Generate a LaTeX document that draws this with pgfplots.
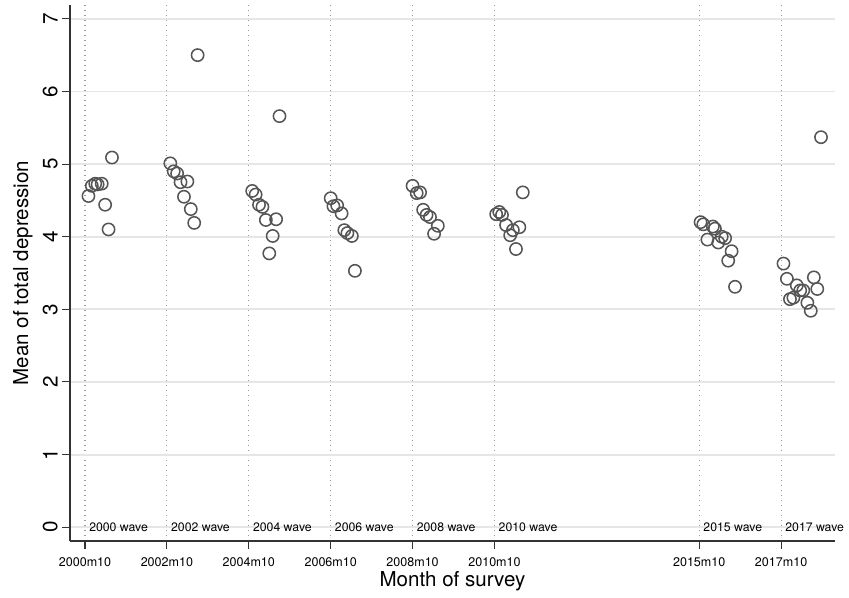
\documentclass[border=0pt]{standalone}
\usepackage{pgfplots}
\pgfplotsset{compat=1.18}
\usepackage{fontspec}
\setmainfont{TeX Gyre Heros}
\definecolor{markc}{HTML}{555555}
\definecolor{gridc}{HTML}{E6E6E6}
\definecolor{dotc}{HTML}{9A9A9A}
\definecolor{axc}{HTML}{333333}
\tikzset{wave/.style={anchor=west, inner sep=0pt, xshift=3pt, font=\fontsize{9.2pt}{11pt}\selectfont}}
\begin{document}
\begin{tikzpicture}
\path[use as bounding box] (-52.5pt,-42pt) rectangle (584.25pt,405.75pt);
\begin{axis}[
  at={(0,0)}, anchor=south west,
  scale only axis, width=573.75pt, height=402pt,
  xmin=-4.4, xmax=219.8, ymin=-0.19, ymax=7.19,
  axis lines=left,
  axis line style={-, draw=axc, line width=0.8pt},
  xtick={0,24,48,72,96,120,180,204},
  xticklabels={2000m10,2002m10,2004m10,2006m10,2008m10,2010m10,2015m10,2017m10},
  ytick={0,1,2,3,4,5,6,7},
  tick align=outside, major tick length=6pt,
  tick style={draw=axc, line width=0.8pt},
  xmajorgrids, ymajorgrids,
  x grid style={draw=dotc, line width=0.8pt, dash pattern=on 0.8pt off 2.95pt},
  y grid style={draw=gridc, line width=1.4pt},
  /pgf/number format/assume math mode=true,
  xticklabel shift=6pt,
  yticklabel shift=3pt,
  xticklabel style={font=\fontsize{9.4pt}{11pt}\selectfont, inner sep=0pt, anchor=north},
  yticklabel style={font=\fontsize{15.5pt}{18pt}\selectfont, rotate=90, inner sep=0pt, anchor=south},
  xlabel={Month of survey},
  ylabel={Mean of total depression},
  xlabel style={font=\fontsize{15.4pt}{18pt}\selectfont, at={(axis description cs:0.5,-0.056)}, anchor=north, inner sep=0pt},
  ylabel style={font=\fontsize{15.4pt}{18pt}\selectfont, at={(axis description cs:-0.0484,0.5)}, rotate=0, anchor=south, inner sep=0pt},
  clip=false,
]
\addplot[only marks, mark=o, mark size=4.6pt, mark options={draw=markc, line width=1.15pt}] coordinates {
 (1,4.56) (2,4.70) (3,4.73) (3.7,4.72) (4.9,4.73) (5.9,4.44) (6.9,4.10) (7.9,5.09)
 (25,5.01) (26,4.90) (27,4.87) (28,4.75) (29,4.55) (30,4.76) (31,4.38) (32,4.19) (33,6.50)
 (49,4.63) (50,4.58) (51,4.44) (52,4.41) (53,4.23) (54,3.77) (55,4.01) (56,4.24) (57,5.66)
 (72,4.53) (72.8,4.42) (73.9,4.43) (75.2,4.32) (76,4.09) (76.9,4.05) (78.2,4.01) (79.1,3.53)
 (96,4.70) (97.2,4.60) (98.2,4.61) (99.1,4.37) (100.1,4.30) (101.1,4.27) (102.3,4.04) (103.4,4.15)
 (120.5,4.31) (121.4,4.34) (122.2,4.30) (123.4,4.16) (124.6,4.02) (125.4,4.09) (126.3,3.83) (127.3,4.13) (128.3,4.61)
 (180.4,4.20) (181.2,4.17) (182.4,3.96) (184,4.14) (184.6,4.11) (185.6,3.92) (186.6,4.00) (187.6,3.98) (188.5,3.67) (189.5,3.80) (190.5,3.31)
 (204.7,3.63) (205.7,3.42) (206.6,3.14) (207.6,3.16) (208.6,3.33) (209.6,3.26) (210.5,3.26) (211.7,3.09) (212.7,2.98) (213.6,3.44) (214.6,3.28) (215.7,5.37)
};
\node[wave] at (axis cs:0,0) {2000 wave};
\node[wave] at (axis cs:24,0) {2002 wave};
\node[wave] at (axis cs:48,0) {2004 wave};
\node[wave] at (axis cs:72,0) {2006 wave};
\node[wave] at (axis cs:96,0) {2008 wave};
\node[wave] at (axis cs:120,0) {2010 wave};
\node[wave] at (axis cs:180,0) {2015 wave};
\node[wave] at (axis cs:204,0) {2017 wave};
\end{axis}
\end{tikzpicture}
\end{document}
